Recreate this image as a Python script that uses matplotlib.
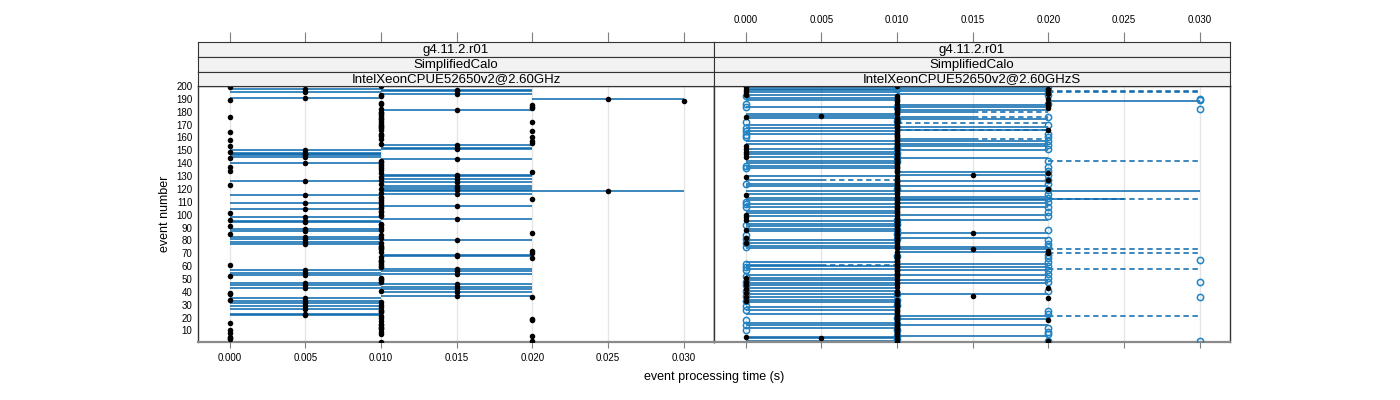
import numpy as np
import matplotlib
matplotlib.use('Agg')
import matplotlib.pyplot as plt

plt.rcParams['font.family'] = ['Liberation Sans', 'DejaVu Sans']

# ---- data: event numbers (1..200) grouped by measured time ----
events = np.arange(1, 201)
x_ticks = [0.000, 0.005, 0.010, 0.015, 0.020, 0.025, 0.030]
y_ticks = list(range(10, 201, 10))

strip_version = 'g4.11.2.r01'
strip_app = 'SimplifiedCalo'
strip_cpu = ['IntelXeonCPUE52650v2@2.60GHz', 'IntelXeonCPUE52650v2@2.60GHzS']

# left panel: black dot = mean time, line = min..max over runs
left_dot_000 = [199, 189, 176, 164, 158, 153, 149, 144, 137, 134, 123, 101, 96, 91, 85,
                61, 52, 39, 38, 34, 16, 10, 8, 5, 4, 3]
left_dot_005 = [198, 195, 191, 150, 148, 147, 146, 145, 140, 126, 115, 109, 104, 98, 95,
                94, 89, 87, 83, 81, 79, 77, 57, 55, 53, 47, 45, 43, 35, 33, 31, 29, 27, 23, 22]
left_dot_015 = [197, 196, 194, 181, 154, 152, 151, 143, 131, 130, 128, 125, 122, 121, 119,
                116, 107, 97, 80, 69, 68, 58, 56, 54, 46, 44, 42, 40, 37]
left_dot_020 = [185, 184, 183, 172, 165, 160, 157, 156, 133, 112, 86, 72, 70, 66, 36, 19, 18, 6, 2]
left_dot_025 = [190, 118]
left_dot_030 = [188]
left_line_0_10 = left_dot_005
left_line_10_20 = left_dot_015
left_line_20_30 = [190]
left_line_10_30 = [118]

# right panel, first build: black dots + solid lines
right_dot_000 = [199, 197, 195, 193, 176, 153, 151, 149, 147, 145, 129, 115, 100, 98, 96,
                 88, 82, 78, 51, 48, 45, 42, 39, 36, 33, 5]
right_dot_005 = [177, 4]
right_dot_015 = [131, 86, 73, 37]
right_dot_020 = [198, 196, 194, 190, 187, 185, 183, 166, 132, 127, 120, 72, 70, 43, 35, 18, 2]
right_line_0_10 = [199, 198, 197, 195, 193, 191, 189, 184, 178, 177, 175, 170, 167, 165, 163,
                   157, 155, 151, 149, 147, 145, 142, 140, 138, 136, 130, 124, 122, 118, 116,
                   113, 111, 108, 106, 103, 101, 99, 95, 93, 91, 89, 87, 80, 78, 76, 74, 63,
                   60, 58, 53, 51, 49, 47, 45, 43, 41, 38, 36, 34, 32, 28, 26, 23, 16, 14, 12,
                   5, 4, 2]
right_line_0_5 = [127, 61]
right_line_10_15 = [180, 176, 159]
right_line_10_20 = [199, 198, 196, 194, 185, 184, 181, 174, 168, 166, 157, 155, 153, 150, 144,
                    133, 131, 126, 122, 114, 111, 109, 106, 100, 96, 86, 82, 75, 73, 71, 62,
                    59, 57, 53, 49, 47, 38, 21, 19, 14, 6]
right_line_10_25 = [112]
right_line_10_30 = [118]
right_line_20_30 = [188]

# right panel, second build: open circles + dashed lines
right_open_000 = [192, 186, 184, 172, 167, 165, 162, 160, 138, 136, 124, 110, 108, 106, 92,
                  84, 81, 78, 75, 62, 59, 57, 52, 48, 45, 41, 37, 33, 29, 26, 18, 14, 10]
right_open_010 = [198, 184, 173, 152, 148, 145, 142, 120, 96, 93, 88, 85, 81, 68, 38, 34, 30,
                  20, 15, 10, 6, 3]
right_open_020 = [199, 196, 193, 186, 176, 170, 163, 160, 157, 154, 151, 142, 137, 134, 131,
                  127, 124, 119, 116, 113, 110, 106, 102, 99, 88, 80, 77, 75, 69, 66, 63, 60,
                  57, 54, 51, 48, 41, 25, 23, 12, 9, 7, 2]
right_open_030 = [190, 189, 182, 65, 48, 36, 2]
right_dash_5_10 = [127, 61]
right_dash_10_20 = [171, 166]
right_dash_15_20 = [180, 176, 159]
right_dash_20_30 = [196, 195, 142, 112, 73, 70, 58, 21]

BLUE = '#0868ac'
OPEN = '#1f84c6'
GRID = '#e6e6e6'
XLIM = (-0.0021, 0.0320)

fig = plt.figure(figsize=(14, 4), dpi=100)


def rect(x0, x1, y0, y1):
    return [x0 / 1400, 1 - y1 / 400, (x1 - x0) / 1400, (y1 - y0) / 400]


def lines(ax, ev, t0, t1, dashed=False):
    ax.hlines(ev, t0, t1, colors=BLUE, lw=1.3, alpha=0.85,
              linestyles=(0, (3, 2)) if dashed else 'solid', zorder=2)


def dots(ax, ev, t):
    ax.plot([t] * len(ev), ev, 'o', color='black', ms=4, mew=0, zorder=4)


def circles(ax, ev, t):
    ax.plot([t] * len(ev), ev, 'o', mfc='none', mec=OPEN, ms=4.5, mew=1.1, zorder=3)


def panel(x0, x1, cpu, top_labels, bottom_labels, left_labels):
    ax = fig.add_axes(rect(x0, x1, 86, 342))
    ax.set_xlim(XLIM)
    ax.set_ylim(1, 200)
    for t in x_ticks:
        ax.axvline(t, color=GRID, lw=1, zorder=0)
    ax.set_xticks(x_ticks)
    ax.set_xticklabels(['%.3f' % t for t in x_ticks] if bottom_labels else [])
    ax.tick_params(axis='x', length=4, color='#808080', labelsize=7, pad=4)
    ax.set_yticks(y_ticks)
    ax.set_yticklabels([str(v) for v in y_ticks] if left_labels else [])
    ax.tick_params(axis='y', length=0, labelsize=7, pad=4)
    for s in ['top', 'left', 'right']:
        ax.spines[s].set_color('#333333')
        ax.spines[s].set_linewidth(1)
    ax.spines['bottom'].set_color('#8a8a8a')
    ax.spines['bottom'].set_linewidth(1.6)

    rows = [(42, 57, strip_version), (57, 71.5, strip_app), (71.5, 86, cpu)]
    for i, (y0, y1, txt) in enumerate(rows):
        sx = fig.add_axes(rect(x0, x1, y0, y1))
        sx.set_facecolor('#f2f2f2')
        sx.set_xlim(XLIM)
        sx.set_yticks([])
        for s in sx.spines.values():
            s.set_color('#333333')
            s.set_linewidth(0.8)
        sx.text(0.5, 0.45, txt, transform=sx.transAxes, ha='center', va='center', fontsize=9.5)
        if i == 0:
            sx.xaxis.tick_top()
            sx.set_xticks(x_ticks)
            sx.set_xticklabels(['%.3f' % t for t in x_ticks] if top_labels else [])
            sx.tick_params(axis='x', length=7, color='#808080', labelsize=7, pad=5.5)
        else:
            sx.set_xticks([])
    return ax


# left panel
ax1 = panel(198, 714, strip_cpu[0], False, True, True)
lines(ax1, left_line_0_10, 0.0, 0.010)
lines(ax1, left_line_10_20, 0.010, 0.020)
lines(ax1, left_line_20_30, 0.020, 0.030)
lines(ax1, left_line_10_30, 0.010, 0.030)
left_other = set(left_dot_000 + left_dot_005 + left_dot_015 + left_dot_020 +
                 left_dot_025 + left_dot_030)
left_dot_010 = [e for e in events if e not in left_other]
dots(ax1, left_dot_000, 0.0)
dots(ax1, left_dot_005, 0.005)
dots(ax1, left_dot_010, 0.010)
dots(ax1, left_dot_015, 0.015)
dots(ax1, left_dot_020, 0.020)
dots(ax1, left_dot_025, 0.025)
dots(ax1, left_dot_030, 0.030)

# right panel
ax2 = panel(714, 1230, strip_cpu[1], True, False, False)
lines(ax2, right_dash_5_10, 0.005, 0.010, dashed=True)
lines(ax2, right_dash_10_20, 0.010, 0.020, dashed=True)
lines(ax2, right_dash_15_20, 0.015, 0.020, dashed=True)
lines(ax2, right_dash_20_30, 0.020, 0.030, dashed=True)
lines(ax2, right_line_0_10, 0.0, 0.010)
lines(ax2, right_line_0_5, 0.0, 0.005)
lines(ax2, right_line_10_15, 0.010, 0.015)
lines(ax2, right_line_10_20, 0.010, 0.020)
lines(ax2, right_line_10_25, 0.010, 0.025)
lines(ax2, right_line_10_30, 0.010, 0.030)
lines(ax2, right_line_20_30, 0.020, 0.030)
circles(ax2, right_open_000, 0.0)
circles(ax2, right_open_010, 0.010)
circles(ax2, right_open_020, 0.020)
circles(ax2, right_open_030, 0.030)
right_other = set(right_dot_000 + right_dot_005 + right_dot_015 + right_dot_020)
right_dot_010 = [e for e in events if e not in right_other]
dots(ax2, right_dot_000, 0.0)
dots(ax2, right_dot_005, 0.005)
dots(ax2, right_dot_010, 0.010)
dots(ax2, right_dot_015, 0.015)
dots(ax2, right_dot_020, 0.020)

fig.text(165 / 1400, 1 - 214 / 400, 'event number', rotation=90, ha='center', va='center',
         fontsize=9)
fig.text(714 / 1400, 1 - 377 / 400, 'event processing time (s)', ha='center', va='center',
         fontsize=9)

fig.savefig('out.png', dpi=100)
